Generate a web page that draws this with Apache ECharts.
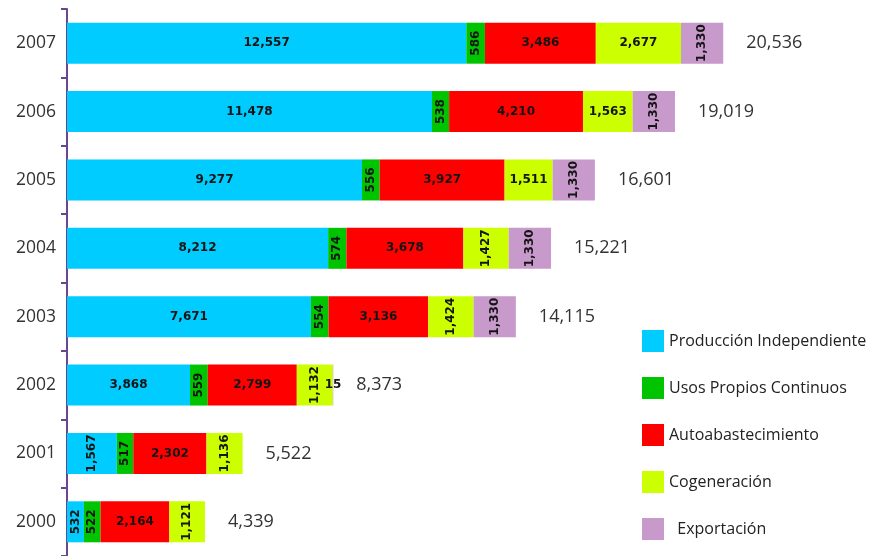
<!DOCTYPE html>
<html>
<head>
<meta charset="utf-8">
<script src="https://cdn.jsdelivr.net/npm/echarts@6/dist/echarts.min.js"></script>
<style>
  html, body { margin: 0; padding: 0; background: #ffffff; }
  #chart { width: 875px; height: 556px; }
</style>
</head>
<body>
<div id="chart"></div>
<script>
// ---- data (years bottom to top) ----
const years = ['2000', '2001', '2002', '2003', '2004', '2005', '2006', '2007'];
const seriesNames = ['Producción Independiente', 'Usos Propios Continuos', 'Autoabastecimiento', 'Cogeneración', 'Exportación'];
const produccionIndependiente = [532, 1567, 3868, 7671, 8212, 9277, 11478, 12557];
const usosPropiosContinuos = [522, 517, 559, 554, 574, 556, 538, 586];
const autoabastecimiento = [2164, 2302, 2799, 3136, 3678, 3927, 4210, 3486];
const cogeneracion = [1121, 1136, 1132, 1424, 1427, 1511, 1563, 2677];
const exportacion = [null, null, 15, 1330, 1330, 1330, 1330, 1330];
const totals = [4339, 5522, 8373, 14115, 15221, 16601, 19019, 20536];

// ---- styles ----
const colors = ['#00CCFF', '#00C400', '#FF0000', '#CCFF00', '#C899CB'];
// which segment labels are drawn vertically
const verticalLabels = [
  [1, 1, 0, 0, 0, 0, 0, 0],
  [1, 1, 1, 1, 1, 1, 1, 1],
  [0, 0, 0, 0, 0, 0, 0, 0],
  [1, 1, 1, 1, 1, 0, 0, 0],
  [0, 0, 0, 1, 1, 1, 1, 1]
];
const valueSets = [produccionIndependiente, usosPropiosContinuos, autoabastecimiento, cogeneracion, exportacion];

const fmt = v => v.toLocaleString('en-US');

const chart = echarts.init(document.getElementById('chart'), null, { renderer: 'canvas' });

const series = valueSets.map((vals, si) => ({
  name: seriesNames[si],
  type: 'bar',
  stack: 'total',
  barWidth: 41,
  itemStyle: { color: colors[si] },
  label: {
    show: true,
    position: 'inside',
    fontFamily: 'DejaVu Sans',
    fontWeight: 'bold',
    fontSize: 12,
    color: '#151515',
    formatter: p => (p.value == null ? '' : fmt(p.value))
  },
  data: vals.map((v, i) => ({
    value: v,
    label: { rotate: verticalLabels[si][i] ? 90 : 0 }
  }))
}));

series.push({
  name: 'Total',
  type: 'bar',
  stack: 'total',
  barWidth: 41,
  silent: true,
  itemStyle: { color: 'rgba(0,0,0,0)' },
  label: {
    show: true,
    position: 'right',
    distance: 23,
    fontFamily: 'Open Sans',
    fontSize: 18,
    color: '#333333',
    formatter: p => fmt(totals[p.dataIndex])
  },
  data: years.map(() => 0)
});

const option = {
  animation: false,
  backgroundColor: '#ffffff',
  grid: { left: 67, top: 9, width: 795, height: 551 },
  xAxis: {
    type: 'value',
    min: 0,
    max: 25000,
    show: false
  },
  yAxis: {
    type: 'category',
    data: years,
    axisLine: { show: true, lineStyle: { color: '#6B4690', width: 2 } },
    axisTick: { show: true, length: 6, lineStyle: { color: '#6B4690', width: 2 } },
    axisLabel: {
      fontFamily: 'Open Sans',
      fontSize: 17.5,
      color: '#333333',
      margin: 11
    },
    splitLine: { show: false }
  },
  legend: {
    data: seriesNames,
    orient: 'vertical',
    left: 637,
    top: 325,
    itemWidth: 22,
    itemHeight: 22,
    itemGap: 25,
    icon: 'rect',
    selectedMode: false,
    textStyle: { fontFamily: 'Open Sans', fontSize: 16, color: '#222222' },
    formatter: name => (name === 'Exportación' ? '  ' + name : name)
  },
  series: series
};

chart.setOption(option);
</script>
</body>
</html>
